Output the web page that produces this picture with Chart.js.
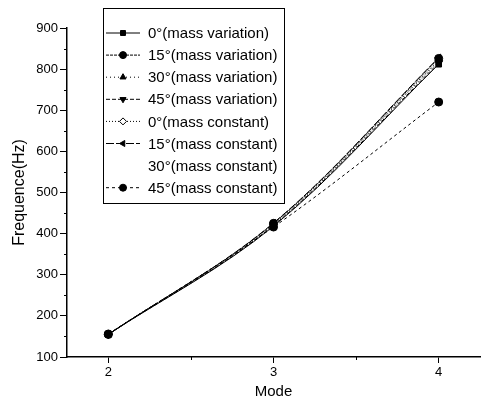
<!DOCTYPE html>
<html>
<head>
<meta charset="utf-8">
<script src="https://cdn.jsdelivr.net/npm/chart.js@4.4.0/dist/chart.umd.min.js"></script>
<style>
  html, body { margin: 0; padding: 0; background: #fff; }
  #wrap { width: 485px; height: 405px; }
</style>
</head>
<body>
<div id="wrap"><canvas id="freqChart"></canvas></div>
<script>
// Frequency vs mode, mass variation / mass constant at several angles
const modes = [2, 3, 4];
const xTicks = [2, 2.5, 3, 3.5, 4];

const mv0 = [155, 418, 812];
const mv15 = [155, 425, 826];
const mv30 = [155, 424, 822];
const mv45 = [155, 420, 815];
const mc0 = [155, 422, 820];
const mc15 = [155, 426, 828];
const mc30 = [155, 421, 818];
const mc45 = [156, 416, 720];

const seriesLabels = [
    '0°(mass variation)', '15°(mass variation)', '30°(mass variation)', '45°(mass variation)',
    '0°(mass constant)', '15°(mass constant)', '30°(mass constant)', '45°(mass constant)'
];

const FONT = "'Liberation Sans', Arial, sans-serif";

function pts(arr) {
    return arr.map((v, i) => ({ x: modes[i], y: v }));
}

function series(label, values, dash, style, rotation, filled, hidden) {
    return {
        label: label,
        data: pts(values),
        borderColor: hidden ? 'rgba(0,0,0,0)' : '#000',
        backgroundColor: filled ? '#000' : '#fff',
        borderWidth: 1,
        borderDash: dash,
        pointStyle: style,
        rotation: rotation,
        pointRadius: style ? 4 : 0,
        pointBorderWidth: 1,
        pointBorderColor: '#000',
        pointBackgroundColor: filled ? '#000' : '#fff',
        tension: 0.35,
        showLine: !hidden
    };
}

const datasets = [
    series(seriesLabels[0], mv0, [], 'rect', 0, true),
    series(seriesLabels[1], mv15, [3, 1], 'circle', 0, true),
    series(seriesLabels[2], mv30, [1, 3], 'triangle', 0, true),
    series(seriesLabels[3], mv45, [4, 2], 'triangle', 180, true),
    series(seriesLabels[4], mc0, [1, 2], 'rectRot', 0, false),
    series(seriesLabels[5], mc15, [8, 2], 'triangle', -90, true),
    series(seriesLabels[6], mc30, [], false, 0, true, true),
    series(seriesLabels[7], mc45, [3, 3], 'circle', 0, true)
];

const isMinorX = v => !Number.isInteger(v);
const isMinorY = v => v % 100 !== 0;

// short minor ticks (the built-in ones are hidden for minor values)
const minorTicks = {
    id: 'minorTicks',
    afterDraw(chart) {
        const ctx = chart.ctx;
        const xs = chart.scales.x, ys = chart.scales.y;
        ctx.save();
        ctx.strokeStyle = '#000';
        ctx.lineWidth = 1;
        ctx.beginPath();
        xs.ticks.forEach(t => {
            if (!isMinorX(t.value)) return;
            const px = Math.round(xs.getPixelForValue(t.value)) + 0.5;
            ctx.moveTo(px, xs.top);
            ctx.lineTo(px, xs.top + 3);
        });
        ys.ticks.forEach(t => {
            if (!isMinorY(t.value)) return;
            const py = Math.round(ys.getPixelForValue(t.value)) + 0.5;
            ctx.moveTo(ys.right - 3, py);
            ctx.lineTo(ys.right, py);
        });
        ctx.stroke();
        ctx.restore();
    }
};

// legend box drawn inside the plot, upper left
const boxLegend = {
    id: 'boxLegend',
    afterDraw(chart) {
        const ctx = chart.ctx;
        const x0 = 103, y0 = 8, w = 181, h = 195;
        ctx.save();
        ctx.fillStyle = '#fff';
        ctx.fillRect(x0, y0, w, h);
        ctx.strokeStyle = '#000';
        ctx.lineWidth = 1;
        ctx.strokeRect(x0 + 0.5, y0 + 0.5, w, h);
        ctx.font = '15px ' + FONT;
        ctx.textBaseline = 'middle';
        chart.data.datasets.forEach((ds, i) => {
            const cy = 33 + i * 22.1;
            if (ds.showLine) {
                ctx.beginPath();
                ctx.setLineDash(ds.borderDash);
                ctx.strokeStyle = '#000';
                ctx.moveTo(106, cy);
                ctx.lineTo(140, cy);
                ctx.stroke();
                ctx.setLineDash([]);
            }
            if (ds.pointStyle) {
                ctx.fillStyle = ds.pointBackgroundColor;
                ctx.strokeStyle = '#000';
                ctx.lineWidth = 1;
                Chart.helpers.drawPoint(ctx, {
                    pointStyle: ds.pointStyle,
                    rotation: ds.rotation,
                    radius: 3.5,
                    borderWidth: 1
                }, 123, cy);
            }
            ctx.fillStyle = '#000';
            ctx.fillText(ds.label, 148, cy + 1);
        });
        ctx.restore();
    }
};

new Chart(document.getElementById('freqChart'), {
    type: 'line',
    data: { datasets: datasets },
    options: {
        responsive: true,
        maintainAspectRatio: false,
        animation: false,
        layout: { padding: { left: 0, right: 2, top: 28, bottom: 0 } },
        plugins: {
            legend: { display: false },
            tooltip: { enabled: false }
        },
        scales: {
            x: {
                type: 'linear',
                min: 1.75,
                max: 4.25,
                afterBuildTicks(scale) {
                    scale.ticks = xTicks.map(v => ({ value: v }));
                },
                afterFit(scale) { scale.height = 48; },
                grid: {
                    drawOnChartArea: false,
                    tickLength: 6,
                    tickColor: c => (c.tick && isMinorX(c.tick.value) ? 'rgba(0,0,0,0)' : '#000')
                },
                border: { color: '#000', width: 1.5 },
                ticks: {
                    color: '#000',
                    font: { family: FONT, size: 13 },
                    padding: 2,
                    autoSkip: false,
                    maxRotation: 0,
                    callback: v => (Number.isInteger(v) ? v : '')
                },
                title: {
                    display: true,
                    text: 'Mode',
                    color: '#000',
                    font: { family: FONT, size: 15 },
                    padding: { top: 11 }
                }
            },
            y: {
                min: 100,
                max: 900,
                afterFit(scale) { scale.width = 67; },
                grid: {
                    drawOnChartArea: false,
                    tickLength: 7,
                    tickColor: c => (c.tick && isMinorY(c.tick.value) ? 'rgba(0,0,0,0)' : '#000')
                },
                border: { color: '#000', width: 1.5 },
                ticks: {
                    stepSize: 50,
                    color: '#000',
                    font: { family: FONT, size: 13 },
                    padding: 2,
                    autoSkip: false,
                    callback: v => (v % 100 === 0 ? v : '')
                },
                title: {
                    display: true,
                    text: 'Frequence(Hz)',
                    color: '#000',
                    font: { family: FONT, size: 16 },
                    padding: { top: 10, bottom: 2 }
                }
            }
        }
    },
    plugins: [minorTicks, boxLegend]
});
</script>
</body>
</html>
